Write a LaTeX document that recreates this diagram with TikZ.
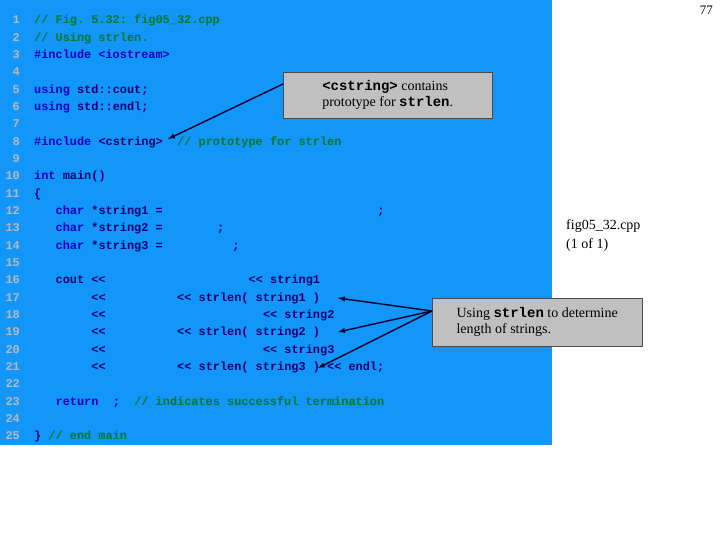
\documentclass[tikz,border=0pt]{standalone}
\usepackage{fontspec}
\setmainfont{Liberation Serif}
\setmonofont{Liberation Mono}
\definecolor{bg}{RGB}{18,150,250}
\definecolor{kw}{RGB}{0,0,190}
\definecolor{idc}{RGB}{0,0,110}
\definecolor{cm}{RGB}{0,120,40}
\definecolor{lnc}{RGB}{185,185,185}
\definecolor{boxg}{RGB}{192,192,192}
\tikzset{code/.style={anchor=base west,inner sep=0,font=\ttfamily\bfseries\fontsize{11.9}{12}\selectfont},
 lnum/.style={anchor=base east,inner sep=0,text=lnc,font=\ttfamily\bfseries\fontsize{11.9}{12}\selectfont},
 callout/.style={draw=black!70,fill=boxg,anchor=north west,inner sep=4pt,align=left,font=\fontsize{14}{16}\selectfont},
 arr/.style={-latex,line width=1.4pt,draw=black!85!blue}}
\newcommand{\cl}[4]{\node[code,text=#3] (c#1x#2) at ({34+#2*7.15},{24+(#1-1)*17.33}) {#4};}
\begin{document}
\begin{tikzpicture}[x=1pt,y=-1pt]
\useasboundingbox (0,0) rectangle (720,540);
\fill[bg] (0,0) rectangle (552,445);
\foreach \i in {1,...,25}{\node[lnum] (n\i) at (20,{24+(\i-1)*17.33}) {\i};}
\cl{1}{0}{cm}{// Fig. 5.32: fig05\_32.cpp}
\cl{2}{0}{cm}{// Using strlen.}
\cl{3}{0}{kw}{\#include <iostream>}
\cl{5}{0}{kw}{using}
\cl{5}{6}{idc}{std::cout;}
\cl{6}{0}{kw}{using}
\cl{6}{6}{idc}{std::endl;}
\cl{8}{0}{kw}{\#include}
\cl{8}{9}{idc}{<cstring>}
\cl{8}{20}{cm}{// prototype for strlen}
\cl{10}{0}{kw}{int}
\cl{10}{4}{idc}{main()}
\cl{11}{0}{idc}{\{}
\cl{12}{3}{kw}{char}
\cl{12}{8}{idc}{*string1 =}
\cl{12}{48}{idc}{;}
\cl{13}{3}{kw}{char}
\cl{13}{8}{idc}{*string2 =}
\cl{13}{25.6}{idc}{;}
\cl{14}{3}{kw}{char}
\cl{14}{8}{idc}{*string3 =}
\cl{14}{27.7}{idc}{;}
\cl{16}{3}{idc}{cout <<}
\cl{16}{30}{idc}{<< string1}
\cl{17}{8}{idc}{<<}
\cl{17}{20}{idc}{<< strlen( string1 )}
\cl{18}{8}{idc}{<<}
\cl{18}{32}{idc}{<< string2}
\cl{19}{8}{idc}{<<}
\cl{19}{20}{idc}{<< strlen( string2 )}
\cl{20}{8}{idc}{<<}
\cl{20}{32}{idc}{<< string3}
\cl{21}{8}{idc}{<<}
\cl{21}{20}{idc}{<< strlen( string3 ) << endl;}
\cl{23}{3}{kw}{return}
\cl{23}{11}{idc}{;}
\cl{23}{14}{cm}{// indicates successful termination}
\cl{25}{0}{idc}{\}}
\cl{25}{2}{cm}{// end main}
\node[callout,minimum width=209pt,minimum height=46pt] (b1) at (283,72) {{\ttfamily\bfseries <cstring>} contains\\prototype for {\ttfamily\bfseries strlen}.};
\node[callout,minimum width=210pt,minimum height=48pt] (b2) at (432,298) {Using {\ttfamily\bfseries strlen} to determine\\length of strings.};
\node[anchor=north west,inner sep=0,align=left,font=\fontsize{14}{19}\selectfont] (fn) at (566,219) {fig05\_32.cpp\\(1 of 1)};
\node[anchor=north east,inner sep=0,font=\fontsize{13}{14}\selectfont] (pg) at (713,6) {77};
\coordinate (t0) at (168,139);
\coordinate (t1) at (338,298);
\coordinate (t2) at (338,332);
\coordinate (t3) at (318,368);
\draw[arr] (b1.west|-0,84) -- (t0);
\draw[arr] (b2.west|-0,311) -- (t1);
\draw[arr] (b2.west|-0,311) -- (t2);
\draw[arr] (b2.west|-0,311) -- (t3);
\end{tikzpicture}
\end{document}
